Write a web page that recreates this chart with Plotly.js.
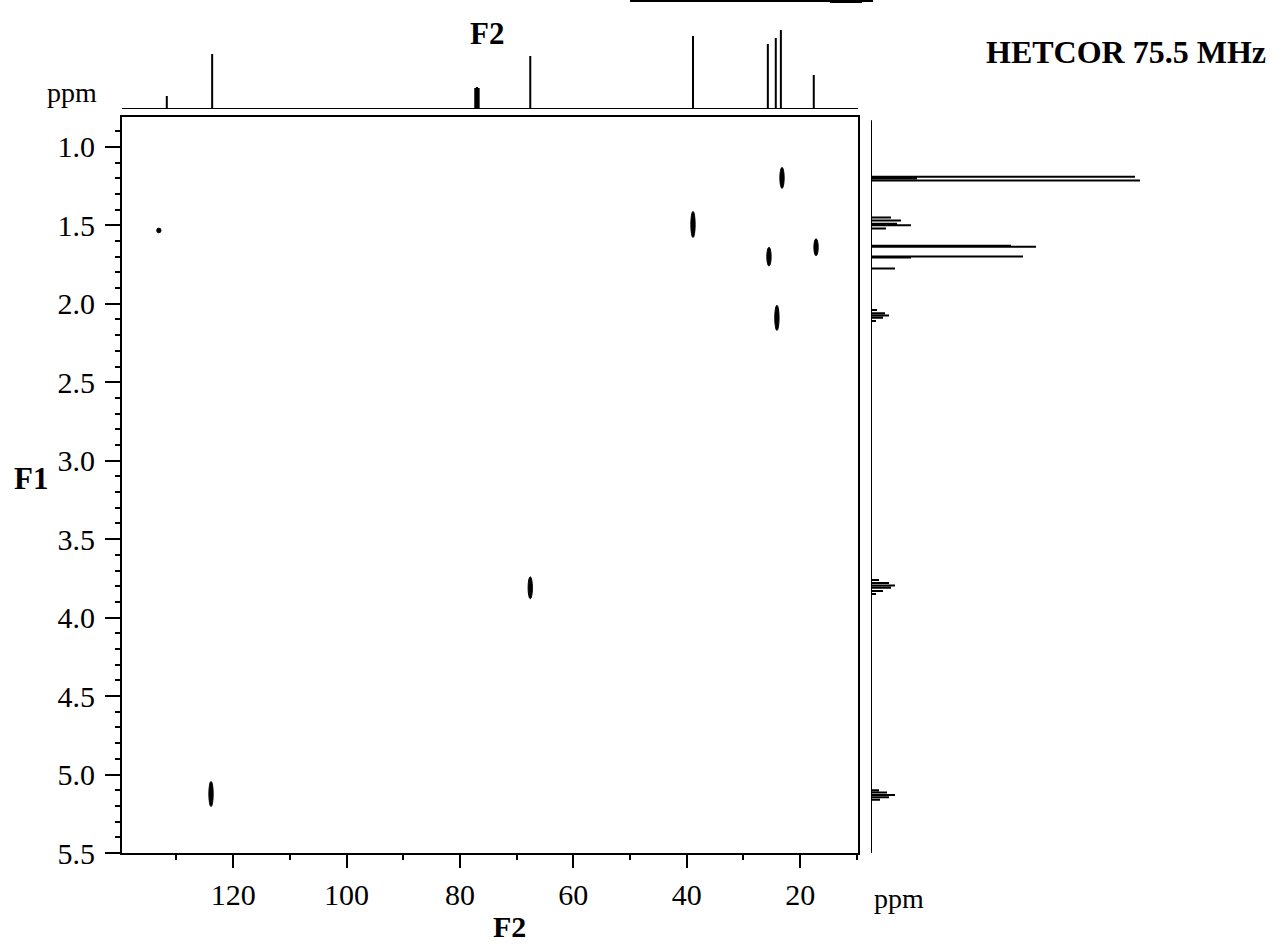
<!DOCTYPE html>
<html>
<head>
<meta charset="utf-8">
<script src="https://cdn.plot.ly/plotly-3.0.1.min.js"></script>
<style>html,body{margin:0;padding:0;background:#fff;}#chart{width:1285px;height:947px;}</style>
</head>
<body>
<div id="chart"></div>
<script>
// ---------- data ----------
// 13C (F2) projection: peak positions (ppm) and heights (arbitrary units)
const c13Ppm    = [131.7, 123.7, 77.3, 77.0, 76.7, 67.6, 38.9, 25.7, 24.3, 23.4, 17.6];
const c13Height = [13,    55,    21,   22,   21,   53,   73,   65,   71,   79,   34];

// 1H (F1) projection: line positions (ppm) and intensities (arbitrary units)
const h1Ppm    = [1.190, 1.200, 1.215, 1.450, 1.470, 1.490, 1.500, 1.520, 1.630, 1.637, 1.699, 1.705, 1.775,
                  2.040, 2.060, 2.075, 2.090, 2.110,
                  3.760, 3.780, 3.795, 3.810, 3.830, 3.850,
                  5.100, 5.115, 5.130, 5.145, 5.160];
const h1Height = [264,   46,    269,   20,    30,    26,    40,    15,    140,   165,   152,   40,    24,
                  6,     14,    18,    12,    5,
                  8,     18,    24,    20,    12,    5,
                  8,     16,    24,    18,    9];
const h1Extent = [0.83, 5.5];   // ppm span covered by the 1H trace

// HETCOR cross peaks: F2 (13C ppm), F1 (1H ppm), F1 extent (ppm)
const crossF2     = [23.2,  38.9,  25.5,  17.2,  24.1,  67.6,  123.9, 133.1];
const crossF1     = [1.198, 1.495, 1.700, 1.640, 2.090, 3.810, 5.124, 1.533];
const crossExtent = [0.134, 0.166, 0.120, 0.108, 0.160, 0.140, 0.160, 0.030];

// axis tick label values
const f1TickVals = [1.0, 1.5, 2.0, 2.5, 3.0, 3.5, 4.0, 4.5, 5.0, 5.5];
const f2TickVals = [120, 100, 80, 60, 40, 20];

// ---------- layout constants ----------
const W = 1285, H = 947;
const F2_RANGE = [139.6, 9.8];
const F1_RANGE = [5.5, 0.81];
const serif = 'Liberation Serif, Times New Roman, serif';
const px = (v) => v / W;
const py = (v) => 1 - v / H;

// ---------- traces ----------
const c13x = [F2_RANGE[0]], c13y = [0];
c13Ppm.forEach((p, i) => { c13x.push(p, p, p); c13y.push(0, c13Height[i], 0); });
c13x.push(F2_RANGE[1]); c13y.push(0);

const h1y = [h1Extent[0]], h1x = [0];
h1Ppm.forEach((p, i) => { h1y.push(p, p, p); h1x.push(0, h1Height[i], 0); });
h1y.push(h1Extent[1]); h1x.push(0);

const traces = [
  { type: 'scatter', mode: 'lines', x: c13x, y: c13y, xaxis: 'x', yaxis: 'y2',
    line: { color: '#000', width: 2 }, hoverinfo: 'skip', showlegend: false },
  { type: 'scatter', mode: 'lines', x: h1x, y: h1y, xaxis: 'x3', yaxis: 'y',
    line: { color: '#000', width: 2 }, hoverinfo: 'skip', showlegend: false },
  { type: 'scatter', mode: 'markers', x: crossF2, y: crossF1, xaxis: 'x', yaxis: 'y',
    marker: { size: 1, color: 'rgba(0,0,0,0)' }, hoverinfo: 'skip', showlegend: false }
];

// cross peaks as filled ellipses drawn in data coordinates
const F2_HALF_WIDTH = 0.38;
const shapes = crossF2.map((f2, i) => ({
  type: 'circle', xref: 'x', yref: 'y',
  x0: f2 + F2_HALF_WIDTH, x1: f2 - F2_HALF_WIDTH,
  y0: crossF1[i] - crossExtent[i] / 2, y1: crossF1[i] + crossExtent[i] / 2,
  fillcolor: '#000', line: { color: '#000', width: 1 }
}));
// stray line at the very top edge of the scan
shapes.push({ type: 'line', xref: 'paper', yref: 'paper', x0: px(630), x1: px(873), y0: py(1), y1: py(1),
  line: { color: '#000', width: 2 } });
shapes.push({ type: 'line', xref: 'paper', yref: 'paper', x0: px(830), x1: px(862), y0: py(1.5), y1: py(1.5),
  line: { color: '#000', width: 3 } });

const tickFont = { family: serif, size: 30, color: '#000' };

const layout = {
  width: W, height: H,
  margin: { l: 0, r: 0, t: 0, b: 0, pad: 0 },
  paper_bgcolor: '#fff', plot_bgcolor: '#fff',
  showlegend: false,
  xaxis: {
    domain: [px(122), px(858)], range: F2_RANGE, anchor: 'y',
    showline: true, linecolor: '#000', linewidth: 2, mirror: true,
    ticks: 'outside', ticklen: 13, tickwidth: 2, tickcolor: '#000',
    tickmode: 'array', tickvals: f2TickVals, ticktext: f2TickVals.map(String),
    minor: { tickmode: 'linear', tick0: 0, dtick: 10, ticks: 'outside', ticklen: 5, tickwidth: 2, tickcolor: '#000', showgrid: false },
    tickfont: tickFont, ticklabelstandoff: 1,
    showgrid: false, zeroline: false, automargin: false, fixedrange: true
  },
  yaxis: {
    domain: [py(853), py(117)], range: F1_RANGE, anchor: 'x',
    showline: true, linecolor: '#000', linewidth: 2, mirror: true,
    ticks: 'outside', ticklen: 15, tickwidth: 2, tickcolor: '#000',
    tickmode: 'array', tickvals: f1TickVals, ticktext: f1TickVals.map(v => v.toFixed(1)),
    minor: { tickmode: 'linear', tick0: 0, dtick: 0.1, ticks: 'outside', ticklen: 5, tickwidth: 2, tickcolor: '#000', showgrid: false },
    tickfont: tickFont, ticklabelstandoff: 4,
    showgrid: false, zeroline: false, automargin: false, fixedrange: true
  },
  yaxis2: {
    domain: [py(109), 1], range: [0, 109], anchor: 'x',
    visible: false, showgrid: false, zeroline: false, fixedrange: true
  },
  xaxis3: {
    domain: [px(871), px(1171)], range: [0, 300], anchor: 'y',
    visible: false, showgrid: false, zeroline: false, fixedrange: true
  },
  shapes: shapes,
  annotations: [
    { text: '<b>F2</b>', xref: 'paper', yref: 'paper', x: px(487), y: py(33), xanchor: 'center', yanchor: 'middle', showarrow: false,
      font: { family: serif, size: 31, color: '#000' } },
    { text: 'ppm', xref: 'paper', yref: 'paper', x: px(72), y: py(93), xanchor: 'center', yanchor: 'middle', showarrow: false,
      font: { family: serif, size: 28, color: '#000' } },
    { text: '<b>HETCOR 75.5 MHz</b>', xref: 'paper', yref: 'paper', x: px(1126), y: py(52), xanchor: 'center', yanchor: 'middle', showarrow: false,
      font: { family: serif, size: 32, color: '#000' } },
    { text: '<b>F1</b>', xref: 'paper', yref: 'paper', x: px(31), y: py(478), xanchor: 'center', yanchor: 'middle', showarrow: false,
      font: { family: serif, size: 31, color: '#000' } },
    { text: '<b>F2</b>', xref: 'paper', yref: 'paper', x: px(510), y: py(926), xanchor: 'center', yanchor: 'middle', showarrow: false,
      font: { family: serif, size: 30, color: '#000' } },
    { text: 'ppm', xref: 'paper', yref: 'paper', x: px(899), y: py(898), xanchor: 'center', yanchor: 'middle', showarrow: false,
      font: { family: serif, size: 28, color: '#000' } }
  ]
};

Plotly.newPlot('chart', traces, layout, { staticPlot: true, displayModeBar: false });
</script>
</body>
</html>
